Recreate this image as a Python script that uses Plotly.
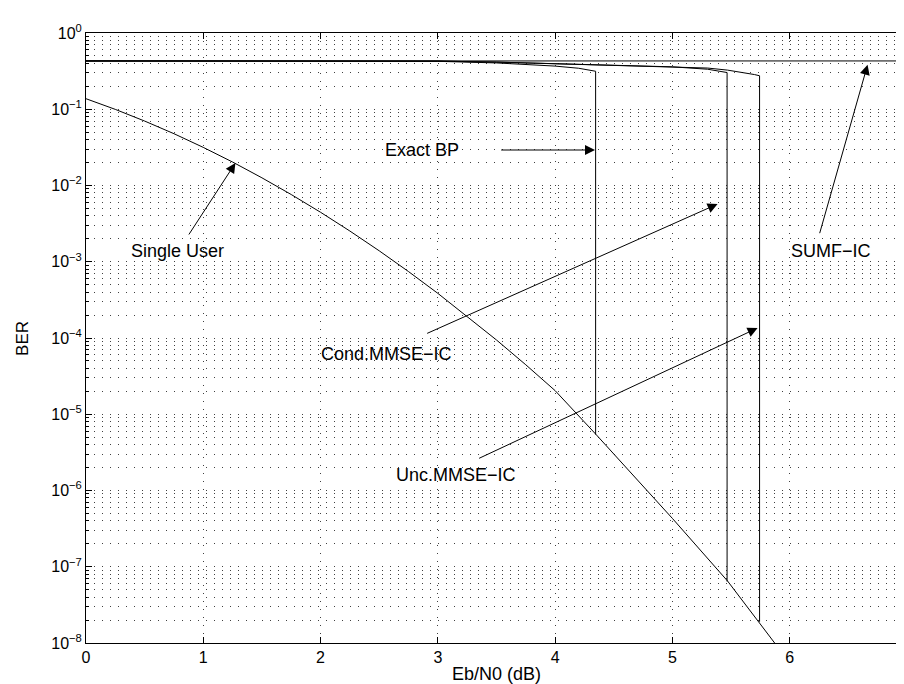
import numpy as np
import plotly.graph_objects as go

# ---------------- data ----------------
ebn0_su = [0.0, 0.25, 0.5, 0.75, 1.0, 1.25, 1.5, 1.75, 2.0, 2.25, 2.5, 2.75, 3.0, 3.25, 3.5, 3.75,
           4.0, 4.35, 5.0, 5.47, 5.87, 6.0]
ber_su = [0.1374, 0.0996, 0.0700, 0.0478, 0.0316, 0.0203, 0.01261, 0.00761, 0.004455, 0.002528,
          0.001392, 7.43e-4, 3.85e-4, 1.93e-4, 9.41e-5, 4.45e-5,
          2.04e-5, 5.4e-6, 4.3e-7, 6.5e-8, 1.0e-8, 5.5e-9]

ebn0_sumf = [0.0, 7.0]
ber_sumf = [0.43, 0.43]

ebn0_bp = [0.0, 1.0, 2.0, 3.0, 3.5, 3.8, 4.0, 4.2, 4.3, 4.345, 4.345]
ber_bp = [0.43, 0.43, 0.43, 0.425, 0.405, 0.385, 0.368, 0.345, 0.325, 0.315, 5.4e-6]

ebn0_cond = [0.0, 1.0, 2.0, 3.0, 3.5, 4.0, 4.34, 4.62, 5.0, 5.3, 5.4, 5.466, 5.466]
ber_cond = [0.43, 0.43, 0.43, 0.428, 0.415, 0.395, 0.384, 0.377, 0.36, 0.335, 0.318, 0.303, 6.4e-8]

ebn0_unc = [0.0, 1.0, 2.0, 3.0, 3.5, 4.0, 4.34, 4.62, 5.0, 5.3, 5.47, 5.6, 5.7, 5.743, 5.743]
ber_unc = [0.43, 0.43, 0.43, 0.428, 0.415, 0.395, 0.384, 0.377, 0.365, 0.347, 0.326, 0.305, 0.285, 0.275, 1.9e-8]

x_ticks = [0, 1, 2, 3, 4, 5, 6, 7]
y_exps = [-8, -7, -6, -5, -4, -3, -2, -1, 0]
y_ticktext = ["10<sup>" + ("\u2212" + str(-e) if e < 0 else str(e)) + "</sup>" for e in y_exps]

# annotation labels: text, text position, arrow tail, arrow tip (data units)
ann_text = ["Exact BP", "Single User", "Cond.MMSE\u2212IC", "Unc.MMSE\u2212IC", "SUMF\u2212IC"]
ann_text_xy = [(2.862, 0.0292), (0.783, 10 ** -2.859), (2.563, 10 ** -4.21), (3.151, 10 ** -5.797), (6.348, 10 ** -2.859)]
ann_tail_xy = [(3.527, 0.0292), (0.869, 10 ** -2.662), (2.896, 10 ** -3.948), (3.339, 10 ** -5.587), (6.252, 10 ** -2.645)]
ann_tip_xy = [(4.34, 0.0292), (1.274, 10 ** -1.705), (5.385, 10 ** -2.243), (5.726, 10 ** -3.869), (6.664, 10 ** -0.416)]

# ---------------- figure ----------------
FONT = "Liberation Sans, Arial, Helvetica, sans-serif"
fig = go.Figure()
line = dict(color="black", width=1)
for xs, ys in [(ebn0_sumf, ber_sumf), (ebn0_su, ber_su), (ebn0_bp, ber_bp),
               (ebn0_cond, ber_cond), (ebn0_unc, ber_unc)]:
    fig.add_trace(go.Scatter(x=xs, y=ys, mode="lines", line=line,
                             showlegend=False, hoverinfo="skip"))

for t, (tx, ty), (ax_, ay_), (hx, hy) in zip(ann_text, ann_text_xy, ann_tail_xy, ann_tip_xy):
    fig.add_annotation(x=tx, y=np.log10(ty), text=t, showarrow=False,
                       xref="x", yref="y", font=dict(family=FONT, size=18, color="black"))
    fig.add_annotation(x=hx, y=np.log10(hy), ax=ax_, ay=np.log10(ay_),
                       xref="x", yref="y", axref="x", ayref="y", text="",
                       showarrow=True, arrowhead=2, arrowsize=2, arrowwidth=1,
                       arrowcolor="black", standoff=0, startstandoff=0)

# y-axis title as a rotated annotation to place it like the reference
fig.add_annotation(x=-0.078, y=0.5, xref="paper", yref="paper", text="BER",
                   textangle=-90, showarrow=False, xanchor="center", yanchor="middle",
                   font=dict(family=FONT, size=17, color="black"))

minor_vals = [k * 10.0 ** d for d in range(-8, 0) for k in range(2, 10)]
grid_dash = "1px,7px"
grid_color = "rgba(0,0,0,0.75)"

fig.update_xaxes(range=[0, 7], tickmode="array", tickvals=x_ticks, automargin=False,
                 ticks="inside", ticklen=6, tickcolor="black", mirror="ticks",
                 showline=True, linecolor="black", linewidth=1,
                 showgrid=True, gridcolor=grid_color, griddash=grid_dash, gridwidth=1,
                 zeroline=False,
                 tickfont=dict(family=FONT, size=16, color="black"),
                 title=dict(text="Eb/N0 (dB)", font=dict(family=FONT, size=18, color="black"), standoff=2))
fig.update_yaxes(type="log", range=[-8, 0], tickmode="array", automargin=False,
                 tickvals=[10.0 ** e for e in y_exps], ticktext=y_ticktext,
                 ticks="inside", ticklen=6, tickcolor="black", mirror="ticks",
                 showline=True, linecolor="black", linewidth=1,
                 showgrid=True, gridcolor=grid_color, griddash=grid_dash, gridwidth=1,
                 zeroline=False,
                 minor=dict(tickmode="array", tickvals=minor_vals, ticks="inside", ticklen=3,
                            tickcolor="black", showgrid=True, gridcolor=grid_color,
                            griddash=grid_dash, gridwidth=1),
                 tickfont=dict(family=FONT, size=16, color="black"))

fig.update_layout(width=904, height=684,
                  margin=dict(l=78, r=5, t=25, b=49, autoexpand=False),
                  paper_bgcolor="white", plot_bgcolor="white",
                  font=dict(family=FONT, color="black"))

fig.write_html("out.html")
